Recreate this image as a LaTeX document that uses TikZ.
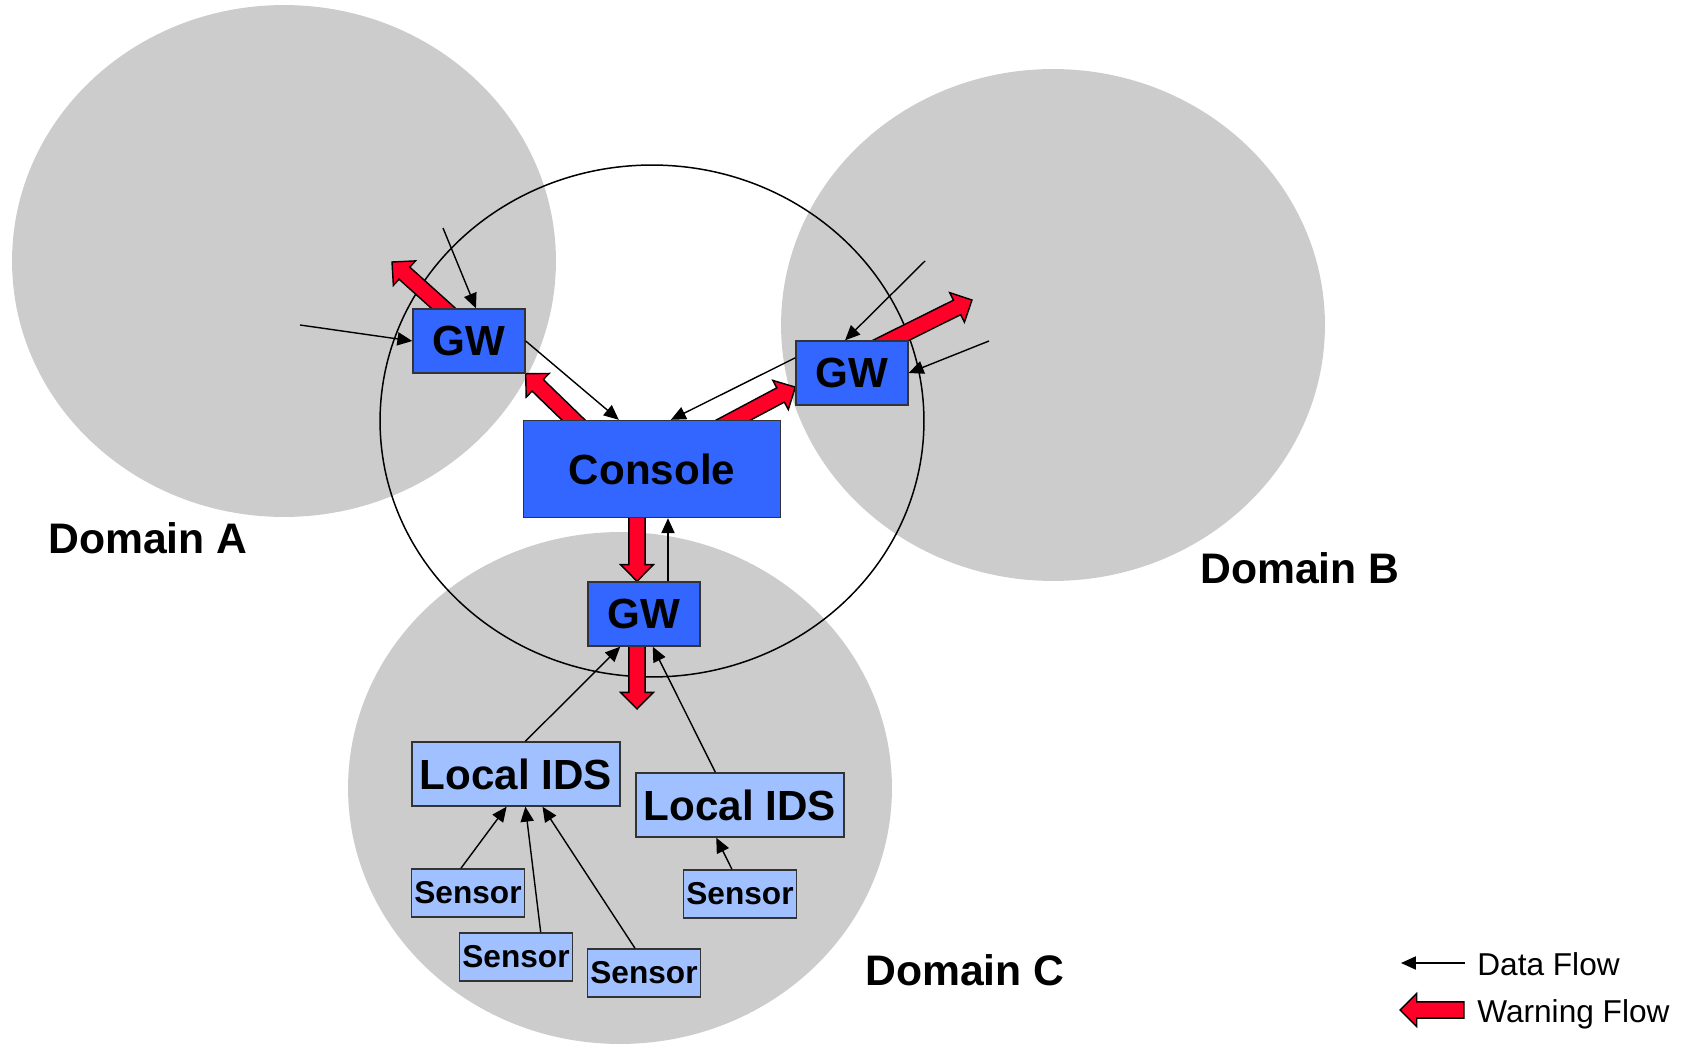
\documentclass[tikz,border=0pt]{standalone}
\usepackage{fontspec}
\setmainfont{Liberation Sans}
\usetikzlibrary{arrows.meta,calc}

\definecolor{gwblue}{RGB}{51,102,255}
\definecolor{idsblue}{RGB}{160,192,255}
\definecolor{warnred}{RGB}{255,0,40}
\definecolor{domgray}{RGB}{204,204,204}

\pgfdeclarelayer{back}
\pgfsetlayers{back,main}

\newcommand{\warnflow}[3]{%
  \coordinate (wa) at ($(#1)!-#3!(#2)$);
  \coordinate (wb) at ($(#2)!9.5pt!(#1)$);
  \filldraw[warn]
    ($(wa)!4.6pt!-90:(#2)$) -- ($(wb)!4.6pt!-90:(#2)$) -- ($(wb)!9.4pt!-90:(#2)$) -- (#2)
    -- ($(wb)!9.4pt!90:(#2)$) -- ($(wb)!4.6pt!90:(#2)$) -- ($(wa)!4.6pt!90:(#2)$) -- cycle;}

\begin{document}
\begin{tikzpicture}[x=0.02cm, y=-0.02cm,
    box/.style={draw=black!80, line width=.8pt, inner sep=1pt, font=\bfseries\fontsize{24}{24}\selectfont},
    gw/.style={box, fill=gwblue, minimum width=2.24cm, minimum height=1.28cm},
    ids/.style={box, fill=idsblue, minimum width=4.16cm, minimum height=1.28cm},
    sensor/.style={box, fill=idsblue, minimum width=2.26cm, minimum height=0.96cm, font=\bfseries\fontsize{18}{18}\selectfont},
    data/.style={-{Triangle[length=8.5pt,width=7.5pt]}, line width=.8pt},
    warn/.style={fill=warnred, draw=black, line width=.8pt, line join=miter},
    domlabel/.style={anchor=base west, inner sep=0pt, font=\bfseries\fontsize{24.3}{24.3}\selectfont},
    legend/.style={anchor=base west, inner sep=0pt, font=\fontsize{18}{18}\selectfont}]
  \useasboundingbox (0,0) rectangle (1691,1044);
  % domains
  \begin{pgfonlayer}{back}
    \fill[domgray] (284,261) ellipse [x radius=5.44cm, y radius=5.12cm];
    \fill[domgray] (1053,325) ellipse [x radius=5.44cm, y radius=5.12cm];
    \fill[domgray] (620,788) ellipse [x radius=5.44cm, y radius=5.12cm];
    \draw[line width=.85pt] (652,421) ellipse [x radius=5.44cm, y radius=5.12cm];
  \end{pgfonlayer}
  \node[domlabel] (doma) at (48,553) {Domain A};
  \node[domlabel] (domb) at (1200,583) {Domain B};
  \node[domlabel] (domc) at (865,985) {Domain C};

  \node[gw] (gwa) at (469,341) {GW};
  \node[gw] (gwb) at (852,373) {GW};
  \node[gw, minimum width=5.14cm, minimum height=1.94cm] (console) at (652,469) {Console};
  \node[gw] (gwc) at (644,614) {GW};
  \node[ids] (lids1) at (516,774) {Local IDS};
  \node[ids] (lids2) at (740,805) {Local IDS};
  \foreach \n/\x/\y in {s1/468/893, s2/516/957, s3/644/973, s4/740/894}
    \node[sensor] (\n) at (\x,\y) {Sensor};

  % data flow
  \coordinate (ina1) at (443,228);
  \coordinate (ina2) at (300,325);
  \coordinate (inb1) at (925,261);
  \coordinate (inb2) at (989,341);
  \coordinate (cup) at ($(gwc.north)+(24,0)$);
  \draw[data] (ina1) -- (gwa.78);
  \draw[data] (ina2) -- (gwa.west);
  \draw[data] (inb1) -- (gwb.102);
  \draw[data] (inb2) -- (gwb.east);
  \draw[data] (cup) -- (cup |- console.south);
  \foreach \a/\b in {gwa.east/console.124, gwb.165/console.69, lids1.74/gwc.234,
      lids2.127/gwc.285, s1.106/lids1.254, s2.45/lids1.286, s3.110/lids1.309, s4.108/lids2.234}
    \draw[data] (\a) -- (\b);

  % warning flow
  \coordinate (outa) at (392,262);
  \coordinate (outb) at (972,300);
  \coordinate (outc) at (637,709);
  \begin{pgfonlayer}{back}
    \warnflow{gwa.128}{outa}{14pt}
    \warnflow{console.148}{gwa.south east}{14pt}
    \warnflow{console.31}{gwb.194}{14pt}
    \warnflow{gwb.40}{outb}{14pt}
    \warnflow{$(console.south)+(-15,0)$}{$(gwc.north)+(-7,0)$}{14pt}
    \warnflow{$(gwc.south)+(-7,0)$}{outc}{14pt}
  \end{pgfonlayer}

  % legend
  \coordinate (ld1) at (1465,963);
  \coordinate (ld2) at (1401,963);
  \coordinate (lw1) at (1464,1010);
  \coordinate (lw2) at (1400,1010);
  \draw[data] (ld1) -- (ld2);
  \warnflow{lw1}{lw2}{0pt}
  \node[legend] (ldata) at (1477,975) {Data Flow};
  \node[legend] (lwarn) at (1477,1022) {Warning Flow};
\end{tikzpicture}
\end{document}
